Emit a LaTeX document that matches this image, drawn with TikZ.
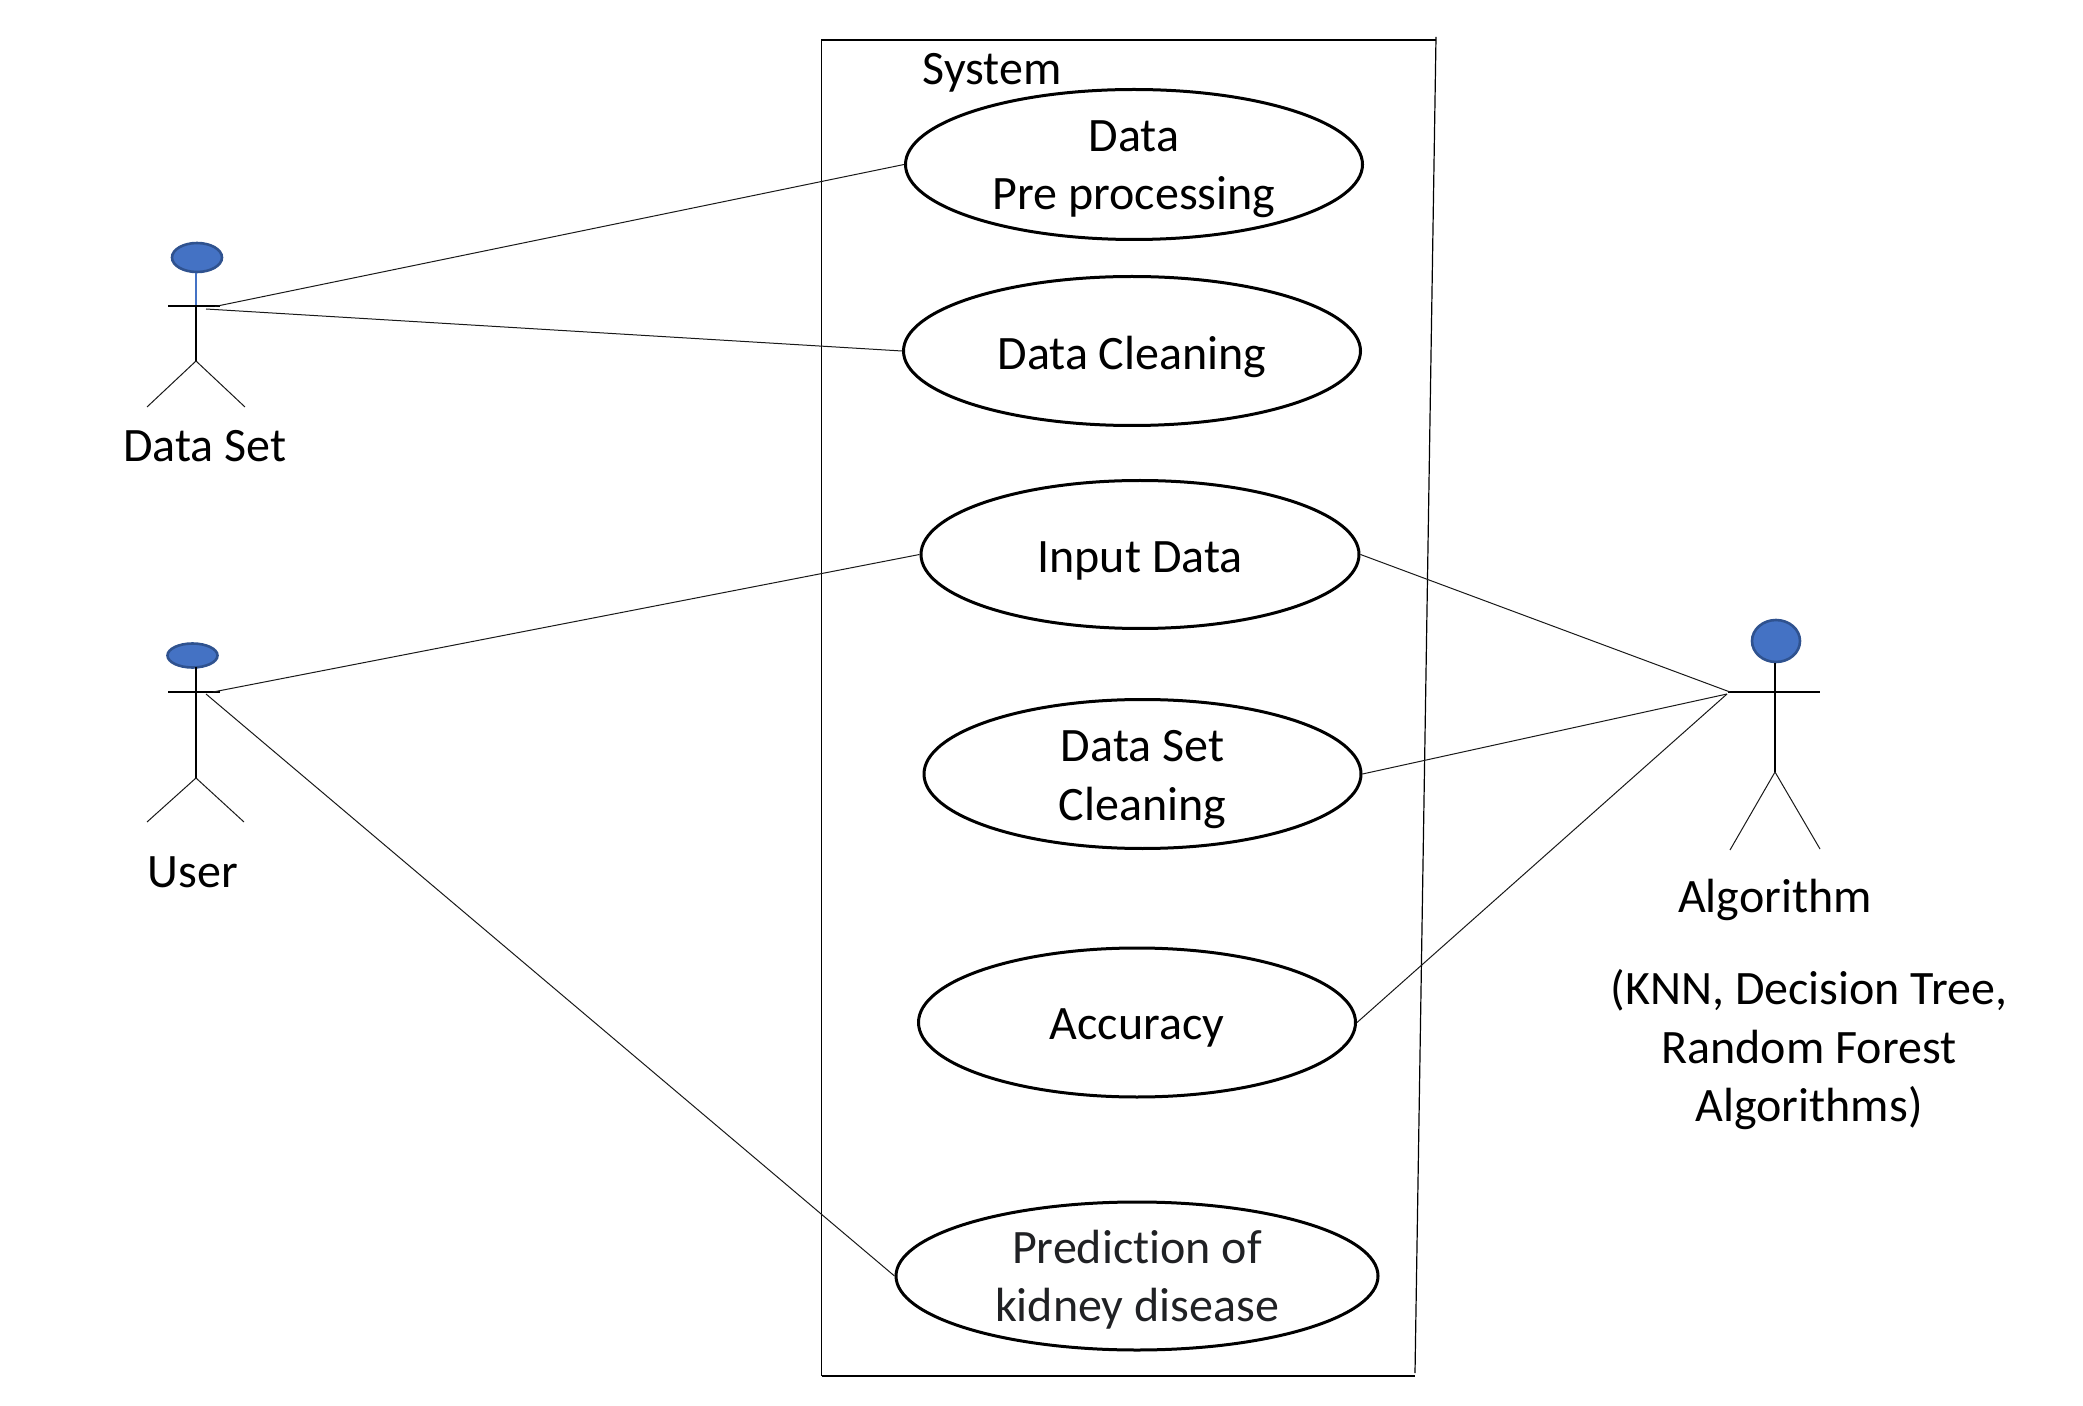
\documentclass[tikz,border=0pt]{standalone}
\usepackage{fontspec}
\setmainfont[Ligatures=NoCommon]{Carlito}
\usepackage{xcolor}
\usetikzlibrary{shapes.geometric}
\definecolor{headfill}{HTML}{4472C4}
\definecolor{headline}{HTML}{2F528F}
\definecolor{darktext}{HTML}{202124}
\tikzset{
  usecase/.style={ellipse, draw, line width=1.5pt, inner sep=0pt, align=center, text depth=0pt},
  actorhead/.style={ellipse, draw=headline, line width=1.3pt, fill=headfill, inner sep=0pt},
  actorline/.style={line width=0.7pt},
  assoc/.style={line width=0.5pt, black!90},
  label/.style={inner sep=0pt, align=center, anchor=base}
}
\begin{document}
\begin{tikzpicture}[x=0.5pt, y=-0.5pt, font=\fontsize{24}{29.3}\selectfont]

    \useasboundingbox (0,0) rectangle (2083,1406);

    % system frame
    \coordinate (TL) at (821.5,40);
    \coordinate (TR) at (1436,40);
    \coordinate (RT) at (1436,37);
    \coordinate (RB) at (1415,1373);
    \coordinate (BR) at (1415,1376);
    \coordinate (BL) at (821.5,1376);
    \draw[line width=0.6pt] (BL) -- (TL) -- (TR);
    \draw[line width=0.6pt] (BL) -- (BR);
    \draw[line width=0.6pt] (RT) -- (RB);
    \node[label] (system) at (992,84.5) {System};

    % use cases
    \node[usecase, minimum width=228.5pt, minimum height=75pt, text height=45.5pt] (prep) at (1134,164.5) {Data\\Pre processing};
    \node[usecase, minimum width=228.5pt, minimum height=74.5pt, text height=18.2pt] (clean) at (1132,351) {Data Cleaning};
    \node[usecase, minimum width=219pt, minimum height=74pt, text height=18pt] (input) at (1140,554.5) {Input Data};
    \node[usecase, minimum width=218.5pt, minimum height=74.5pt, text height=46pt] (setclean) at (1142.5,774) {Data Set\\Cleaning};
    \node[usecase, minimum width=218.5pt, minimum height=74.5pt, text height=16.5pt] (acc) at (1137,1022.5) {Accuracy};
    \node[usecase, minimum width=241pt, minimum height=74pt, text=darktext] (pred) at (1137,1276) {Prediction of\\kidney disease};

    % data set actor
    \node[actorhead, minimum width=25pt, minimum height=14.5pt] (dsHead) at (197,257.5) {};
    \coordinate (dsArmL) at (168,306);
    \coordinate (dsArmR) at (220,306);
    \coordinate (dsNeck) at (196,306);
    \coordinate (dsHip) at (196,361);
    \coordinate (dsFootL) at (147,407);
    \coordinate (dsFootR) at (245,407);
    \draw[line width=0.6pt, headfill] (dsHead.south -| dsNeck) -- (dsNeck);
    \draw[actorline] (dsNeck) -- (dsHip);
    \draw[actorline] (dsArmL) -- (dsArmR);
    \draw[assoc] (dsHip) -- (dsFootL);
    \draw[assoc] (dsHip) -- (dsFootR);
    \node[label] (dsLabel) at (205,462) {Data Set};

    % user actor
    \node[actorhead, minimum width=25pt, minimum height=12pt] (userHead) at (192.5,655.5) {};
    \coordinate (userArmL) at (168,692);
    \coordinate (userArmR) at (220,692);
    \coordinate (userNeck) at (196,667);
    \coordinate (userHip) at (196,778);
    \coordinate (userFootL) at (147,822);
    \coordinate (userFootR) at (244,822);
    \draw[actorline] (userNeck) -- (userHip);
    \draw[actorline] (userArmL) -- (userArmR);
    \draw[assoc] (userHip) -- (userFootL);
    \draw[assoc] (userHip) -- (userFootR);
    \node[label] (userLabel) at (193,887.5) {User};

    % algorithm actor
    \node[actorhead, minimum width=24pt, minimum height=21pt] (algoHead) at (1776,641) {};
    \coordinate (algoArmL) at (1728,692);
    \coordinate (algoArmR) at (1820,692);
    \coordinate (algoHip) at (1775,772);
    \coordinate (algoFootL) at (1730,850);
    \coordinate (algoFootR) at (1820,849);
    \draw[actorline] (algoHead.south -| algoHip) -- (algoHip);
    \draw[actorline] (algoArmL) -- (algoArmR);
    \draw[assoc] (algoHip) -- (algoFootL);
    \draw[assoc] (algoHip) -- (algoFootR);
    \node[label] (algoLabel) at (1775,912) {Algorithm};
    \node[label, anchor=north] (algoList) at (1809,969) {(KNN, Decision Tree,\\Random Forest\\Algorithms)};

    % ends of the associations
    \coordinate (dsA) at (215,306.5);
    \coordinate (dsB) at (206,309);
    \coordinate (userA) at (213,692);
    \coordinate (userB) at (206,694);
    \coordinate (algoA) at (1730,692);
    \coordinate (algoB) at (1727,694);

    \path[assoc]
        (dsA) edge (prep.west)
        (dsB) edge (clean.west)
        (userA) edge (input.west)
        (userB) edge (pred.west)
        (input.east) edge (algoA)
        (setclean.east) edge (algoB)
        (acc.east) edge (algoB);

\end{tikzpicture}
\end{document}
